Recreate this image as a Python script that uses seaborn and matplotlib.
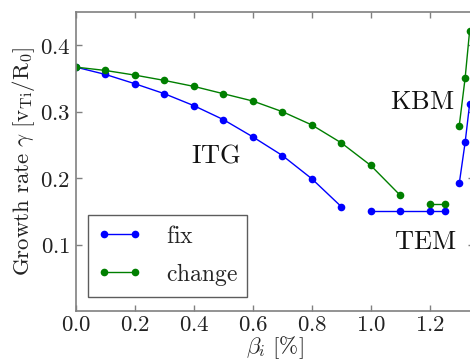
import seaborn as sns
import matplotlib
matplotlib.use("Agg")
import matplotlib.pyplot as plt
import matplotlib.ticker as mticker
import pandas as pd

# values; gaps handled with segment ids
fix_beta = [0.0, 0.1, 0.2, 0.3, 0.4, 0.5, 0.6, 0.7, 0.8, 0.9,
            1.0, 1.1, 1.2, 1.25,
            1.30, 1.32, 1.335]
fix_gamma = [0.367, 0.356, 0.342, 0.327, 0.309, 0.288, 0.262, 0.234, 0.199, 0.157,
             0.151, 0.151, 0.151, 0.151,
             0.192, 0.254, 0.311]
fix_seg = [0] * 10 + [1] * 4 + [2] * 3

change_beta = [0.0, 0.1, 0.2, 0.3, 0.4, 0.5, 0.6, 0.7, 0.8, 0.9, 1.0, 1.1,
               1.2, 1.25,
               1.30, 1.32, 1.335]
change_gamma = [0.367, 0.362, 0.355, 0.347, 0.338, 0.327, 0.316, 0.300, 0.280, 0.253, 0.219, 0.174,
                0.161, 0.161,
                0.279, 0.351, 0.421]
change_seg = [0] * 12 + [1] * 2 + [2] * 3

regimes = ["ITG", "KBM", "TEM"]
regime_x = [0.475, 1.176, 1.183]
regime_y = [0.235, 0.315, 0.104]

x_ticks = [0.0, 0.2, 0.4, 0.6, 0.8, 1.0, 1.2]
y_ticks = [0.1, 0.2, 0.3, 0.4]

df = pd.concat([
    pd.DataFrame({"beta": fix_beta, "gamma": fix_gamma, "seg": fix_seg, "case": "fix"}),
    pd.DataFrame({"beta": change_beta, "gamma": change_gamma, "seg": change_seg, "case": "change"}),
])
df["unit"] = df["case"] + df["seg"].astype(str)

sns.set_style("ticks")
plt.rcParams["mathtext.fontset"] = "cm"
plt.rcParams["font.family"] = "serif"
plt.rcParams["font.serif"] = ["DejaVu Serif"]
plt.rcParams["legend.numpoints"] = 2

grey = "#808080"
fig = plt.figure(figsize=(4.7, 3.6), dpi=100)
ax = fig.add_axes([76 / 470, 49 / 360, 398 / 470, 299 / 360])

sns.lineplot(ax=ax, data=df, x="beta", y="gamma", hue="case", units="unit",
             estimator=None, sort=False,
             palette={"fix": "#0000ff", "change": "#007f00"},
             marker="o", markersize=5.5, markeredgewidth=0, linewidth=1.0)

ax.set_xlim(0, 1.35)
ax.set_ylim(0, 0.45)
ax.set_xticks(x_ticks)
ax.set_yticks(y_ticks)
ax.xaxis.set_major_formatter(mticker.FuncFormatter(lambda v, p: r"$%.1f$" % v))
ax.yaxis.set_major_formatter(mticker.FuncFormatter(lambda v, p: r"$%.1f$" % v))
ax.tick_params(direction="in", length=4, width=1, colors=grey, labelcolor="#222222",
               labelsize=16.5, top=True, right=True)
ax.tick_params(axis="x", pad=2)
ax.tick_params(axis="y", pad=4)
for s in ax.spines.values():
    s.set_color(grey)
    s.set_linewidth(1.2)

ax.set_xlabel(r"$\beta_i\ [\%]$", fontsize=16.5, color="#222222", labelpad=-1)
ax.set_ylabel(r"$\mathrm{Growth\ rate}\ \gamma\ [\mathrm{v_{Ti}/R_0}]$", fontsize=16.5,
              color="#222222", labelpad=2)

for name, xx, yy in zip(regimes, regime_x, regime_y):
    ax.text(xx, yy, r"$\mathrm{%s}$" % name, fontsize=19, ha="center", va="center",
            color="#111111")

leg = ax.legend(loc="lower left", bbox_to_anchor=(0.03, 0.047), borderaxespad=0,
                fancybox=False, frameon=True, fontsize=17, handlelength=1.9,
                borderpad=0.4, labelspacing=0.55, handletextpad=1.0)
leg.get_frame().set_edgecolor("#333333")
leg.get_frame().set_linewidth(1.0)
for t in leg.get_texts():
    t.set_text(r"$\mathrm{%s}$" % t.get_text())
for h in leg.legend_handles:
    h.set_markersize(5.5)

fig.savefig("out.png", dpi=100)
plt.close("all")
